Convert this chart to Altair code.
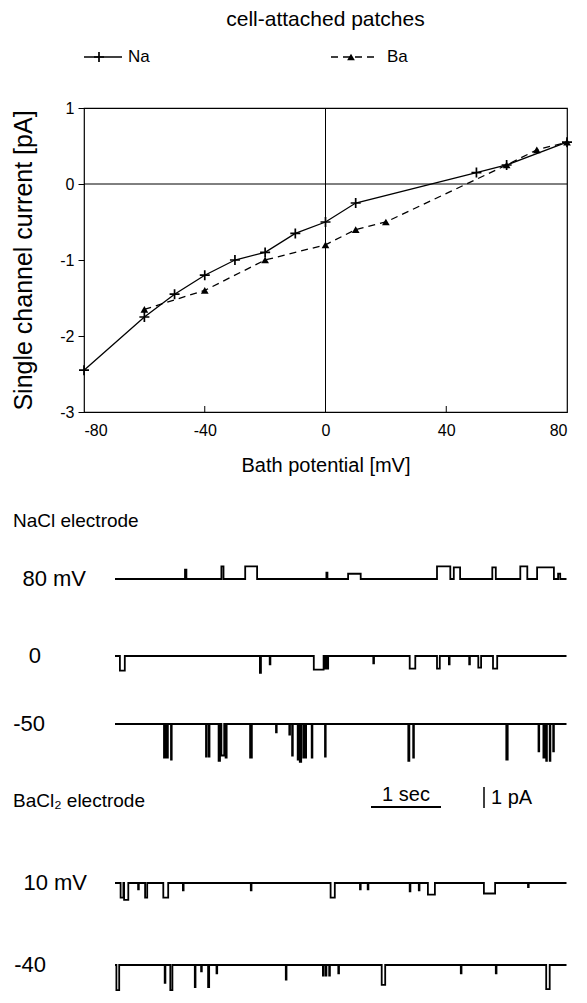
import altair as alt
import pandas as pd

FONT = "Liberation Sans"

# ---------------- I-V relation (cell-attached patches) ----------------
NA_V = [-80, -60, -50, -40, -30, -20, -10, 0, 10, 50, 60, 80]
NA_I = [-2.45, -1.75, -1.45, -1.2, -1.0, -0.9, -0.65, -0.5, -0.25, 0.15, 0.25, 0.55]
BA_V = [-60, -40, -20, 0, 10, 20, 60, 70, 80]
BA_I = [-1.65, -1.4, -1.0, -0.8, -0.6, -0.5, 0.25, 0.45, 0.55]
X_TICKS = [-80, -40, 0, 40, 80]
Y_TICKS = [-3, -2, -1, 0, 1]
INNER_X_TICKS = [-40, 40]

# ---------------- single-channel records: (start s, end s, amplitude pA) ----------------
TRACE_NAMES = ["80 mV", "0", "-50", "10 mV", "-40"]
TRACE_LENGTH_S = 6.45
EVENTS_NA_80 = [
    (1.00, 1.02, 0.45), (1.52, 1.55, 0.6), (1.86, 2.03, 0.6), (3.02, 3.035, 0.3),
    (3.33, 3.51, 0.25), (4.60, 4.79, 0.6), (4.84, 4.93, 0.55), (5.39, 5.44, 0.55),
    (5.79, 5.89, 0.6), (6.03, 6.27, 0.55), (6.33, 6.36, 0.25)]
EVENTS_NA_0 = [
    (0.07, 0.14, -0.7), (2.07, 2.085, -0.8), (2.21, 2.22, -0.4), (2.84, 2.98, -0.65),
    (3.00, 3.015, -0.6), (3.03, 3.045, -0.6), (3.69, 3.70, -0.35), (4.21, 4.29, -0.6),
    (4.60, 4.64, -0.6), (4.77, 4.78, -0.4), (5.06, 5.07, -0.4), (5.19, 5.23, -0.55),
    (5.40, 5.46, -0.6)]
EVENTS_NA_M50 = [
    (0.70, 0.715, -1.6), (0.74, 0.755, -1.6), (0.80, 0.81, -1.7), (1.30, 1.31, -1.55),
    (1.34, 1.35, -1.55), (1.48, 1.50, -1.75), (1.52, 1.56, -1.5), (1.58, 1.595, -1.6),
    (1.93, 1.955, -1.6), (2.30, 2.31, -0.4), (2.49, 2.50, -0.5), (2.53, 2.54, -1.5),
    (2.61, 2.625, -1.7), (2.64, 2.66, -1.8), (2.69, 2.70, -1.6), (2.72, 2.73, -1.6),
    (2.81, 2.82, -1.6), (3.00, 3.01, -1.55), (4.19, 4.205, -1.75), (4.26, 4.27, -1.6),
    (5.59, 5.61, -1.7), (6.05, 6.06, -1.3), (6.12, 6.135, -1.6), (6.16, 6.17, -1.75),
    (6.21, 6.22, -1.75), (6.26, 6.27, -1.3)]
EVENTS_BA_10 = [
    (0.08, 0.12, -0.7), (0.13, 0.19, -0.8), (0.33, 0.34, -0.3), (0.43, 0.46, -0.7),
    (0.69, 0.76, -0.7), (0.97, 0.98, -0.35), (1.94, 1.95, -0.35), (3.08, 3.14, -0.7),
    (3.50, 3.51, -0.3), (3.61, 3.62, -0.3), (4.21, 4.22, -0.4), (4.34, 4.35, -0.35),
    (4.47, 4.57, -0.55), (5.27, 5.43, -0.5), (5.90, 5.91, -0.2)]
EVENTS_BA_M40 = [
    (0.02, 0.06, -1.2), (0.71, 0.72, -0.85), (0.79, 0.82, -1.2), (1.14, 1.15, -1.05),
    (1.23, 1.24, -0.3), (1.33, 1.345, -1.05), (1.45, 1.46, -0.4), (2.44, 2.45, -0.7),
    (2.97, 2.98, -0.5), (3.01, 3.02, -0.5), (3.06, 3.07, -0.5), (3.19, 3.20, -0.4),
    (3.81, 3.86, -0.95), (4.94, 4.95, -0.4), (5.44, 5.45, -0.4), (6.16, 6.21, -1.15)]
ALL_EVENTS = [EVENTS_NA_80, EVENTS_NA_0, EVENTS_NA_M50, EVENTS_BA_10, EVENTS_BA_M40]
SCALE_SEC = 1.0
SCALE_PA = 1.0

# ---------------- layout (pixels) ----------------
IV_W, IV_H = 483, 304
TR_H = 498
GAP = 80
PX_PER_S = 70.0
PX_PER_PA = 21.0
TRACE_X0_PX = 31
ROW_Y_PX = [87, 164, 232, 391, 473]
LABEL_RIGHT_PX = [2, -43, -39, 3, -38]
HEAD_Y_PX = [29, 309]
SEC_BAR_X_PX, SEC_BAR_Y_PX = 287, 315
PA_BAR_X_PX, PA_BAR_Y_PX = 400, 316

def px2t(px):
    return (px - TRACE_X0_PX) / PX_PER_S

def px2y(py):
    return -py / PX_PER_PA

t_dom = [px2t(0), px2t(IV_W)]
y_dom = [px2y(TR_H), 0]
row_off = [px2y(p) for p in ROW_Y_PX]

def steps(events, length):
    ts, vs = [0.0], [0.0]
    for t0, t1, a in sorted(events):
        ts += [t0, t0, t1, t1]
        vs += [0.0, a, a, 0.0]
    ts.append(length)
    vs.append(0.0)
    return ts, vs

rows = []
for name, ev, off in zip(TRACE_NAMES, ALL_EVENTS, row_off):
    ts, vs = steps(ev, TRACE_LENGTH_S)
    for k, (t, v) in enumerate(zip(ts, vs)):
        rows.append({"trace": name, "k": k, "t": t, "y": off + v})
df_tr = pd.DataFrame(rows)

# ---------------- I-V chart ----------------
CROSS = "M-1,0L1,0M0,-1L0,1"
df_na = pd.DataFrame({"V": NA_V, "I": NA_I})
df_ba = pd.DataFrame({"V": BA_V, "I": BA_I})
one = pd.DataFrame({"a": [0]})

xs = alt.Scale(domain=[-80, 80], nice=False, zero=False)
ysc = alt.Scale(domain=[-3, 1], nice=False, zero=False)
x_enc = alt.X("V:Q", scale=xs, axis=alt.Axis(
    values=X_TICKS, ticks=False, tickSize=0, domain=False, grid=False,
    labelPadding=10, labelFontSize=16, labelFont=FONT, labelColor="black",
    labelExpr="'' + datum.value", title="Bath potential [mV]", titleFont=FONT,
    titleFontSize=20, titleFontWeight="normal", titleColor="black", titlePadding=17))
y_enc = alt.Y("I:Q", scale=ysc, axis=alt.Axis(
    values=Y_TICKS, tickSize=6, tickColor="black", tickWidth=1, domain=False, grid=False,
    labelPadding=4, labelFontSize=16, labelFont=FONT, labelColor="black",
    labelExpr="'' + datum.value", title="Single channel current [pA]", titleFont=FONT,
    titleFontSize=25, titleFontWeight="normal", titleColor="black", titlePadding=23))

na_line = alt.Chart(df_na).mark_line(color="black", strokeWidth=1.3).encode(x=x_enc, y=y_enc)
na_pts = alt.Chart(df_na).mark_point(shape=CROSS, size=100, filled=False, color="black",
                                     strokeWidth=1.7, opacity=1).encode(x="V:Q", y="I:Q")
ba_line = alt.Chart(df_ba).mark_line(color="black", strokeWidth=1.3, strokeDash=[7, 5]).encode(x="V:Q", y="I:Q")
ba_pts = alt.Chart(df_ba).mark_point(shape="triangle-up", size=60, filled=True, color="black",
                                     opacity=1).encode(x="V:Q", y="I:Q")
zero_v = alt.Chart(one).mark_rule(color="black", strokeWidth=1).encode(x=alt.datum(0))
zero_h = alt.Chart(one).mark_rule(color="black", strokeWidth=1).encode(y=alt.datum(0))
inner_ticks = alt.Chart(pd.DataFrame({"V": INNER_X_TICKS})).mark_rule(color="black").encode(
    x="V:Q", y=alt.value(IV_H), y2=alt.value(IV_H - 6))

LEG_Y = -51
leg = alt.Chart(one)
na_leg_line = leg.mark_rule(color="black", strokeWidth=1.3).encode(
    x=alt.value(0), x2=alt.value(38), y=alt.value(LEG_Y))
na_leg_pt = leg.mark_point(shape=CROSS, size=100, filled=False, color="black",
                           strokeWidth=1.7, opacity=1).encode(x=alt.value(15), y=alt.value(LEG_Y))
na_leg_txt = leg.mark_text(align="left", baseline="middle", fontSize=17, font=FONT,
                           color="black").encode(x=alt.value(44), y=alt.value(LEG_Y), text=alt.value("Na"))
ba_leg_line = leg.mark_rule(color="black", strokeWidth=1.3, strokeDash=[7, 5]).encode(
    x=alt.value(247), x2=alt.value(292), y=alt.value(LEG_Y))
ba_leg_pt = leg.mark_point(shape="triangle-up", size=60, filled=True, color="black",
                           opacity=1).encode(x=alt.value(267), y=alt.value(LEG_Y))
ba_leg_txt = leg.mark_text(align="left", baseline="middle", fontSize=17, font=FONT,
                           color="black").encode(x=alt.value(303), y=alt.value(LEG_Y), text=alt.value("Ba"))
title_txt = leg.mark_text(align="center", baseline="middle", fontSize=21, font=FONT,
                          color="black").encode(x=alt.value(IV_W / 2), y=alt.value(-88),
                                                text=alt.value("cell-attached patches"))

iv = alt.layer(
    zero_v, zero_h, inner_ticks, na_line, ba_line, na_pts, ba_pts,
    na_leg_line, na_leg_pt, na_leg_txt, ba_leg_line, ba_leg_pt, ba_leg_txt, title_txt
).properties(width=IV_W, height=IV_H,
             view=alt.ViewBackground(stroke="black", strokeWidth=1.2))

# ---------------- traces chart ----------------
tx = alt.X("t:Q", scale=alt.Scale(domain=t_dom, nice=False, zero=False), axis=None)
ty = alt.Y("y:Q", scale=alt.Scale(domain=y_dom, nice=False, zero=False), axis=None)

tr_lines = alt.Chart(df_tr).mark_line(color="black", strokeWidth=1.8).encode(
    x=tx, y=ty, detail="trace:N", order="k:Q")

df_lab = pd.DataFrame({"name": TRACE_NAMES, "y": row_off,
                       "t": [px2t(p) for p in LABEL_RIGHT_PX]})
tr_labels = alt.Chart(df_lab).mark_text(align="right", baseline="middle", fontSize=22,
                                        font=FONT, color="black").encode(
    x="t:Q", y="y:Q", text="name:N")

df_head = pd.DataFrame({"txt": ["NaCl electrode", "BaCl\u2082 electrode"],
                        "y": [px2y(p) for p in HEAD_Y_PX]})
tr_heads = alt.Chart(df_head).mark_text(align="left", baseline="middle", fontSize=19,
                                        font=FONT, color="black").encode(
    x=alt.value(-71), y="y:Q", text="txt:N")

t_sec0 = px2t(SEC_BAR_X_PX)
y_sec = px2y(SEC_BAR_Y_PX)
sec_bar = alt.Chart(pd.DataFrame({"t": [t_sec0], "t2": [t_sec0 + SCALE_SEC], "y": [y_sec]})).mark_rule(
    color="black", strokeWidth=2).encode(x="t:Q", x2="t2:Q", y="y:Q")
sec_txt = alt.Chart(pd.DataFrame({"t": [t_sec0 + SCALE_SEC / 2], "y": [y_sec + 0.55]})).mark_text(
    align="center", baseline="middle", fontSize=20, font=FONT, color="black").encode(
    x="t:Q", y="y:Q", text=alt.value("1 sec"))

t_pa = px2t(PA_BAR_X_PX)
y_pa0 = px2y(PA_BAR_Y_PX)
pa_bar = alt.Chart(pd.DataFrame({"t": [t_pa], "y": [y_pa0], "y2": [y_pa0 + SCALE_PA]})).mark_rule(
    color="black", strokeWidth=1.5).encode(x="t:Q", y="y:Q", y2="y2:Q")
pa_txt = alt.Chart(pd.DataFrame({"t": [t_pa + 0.1], "y": [y_pa0 + SCALE_PA / 2]})).mark_text(
    align="left", baseline="middle", fontSize=20, font=FONT, color="black").encode(
    x="t:Q", y="y:Q", text=alt.value("1 pA"))

traces = alt.layer(tr_lines, tr_labels, tr_heads, sec_bar, sec_txt, pa_bar, pa_txt).properties(
    width=IV_W, height=TR_H,
    view=alt.ViewBackground(stroke="white", strokeWidth=0, strokeOpacity=0))

chart = alt.vconcat(iv, traces, spacing=GAP, bounds="flush").properties(
    padding={"left": 3, "top": 0, "right": 0, "bottom": 0}
).configure(font=FONT)

chart.save("out.html", embed_options={"renderer": "svg", "actions": False})
